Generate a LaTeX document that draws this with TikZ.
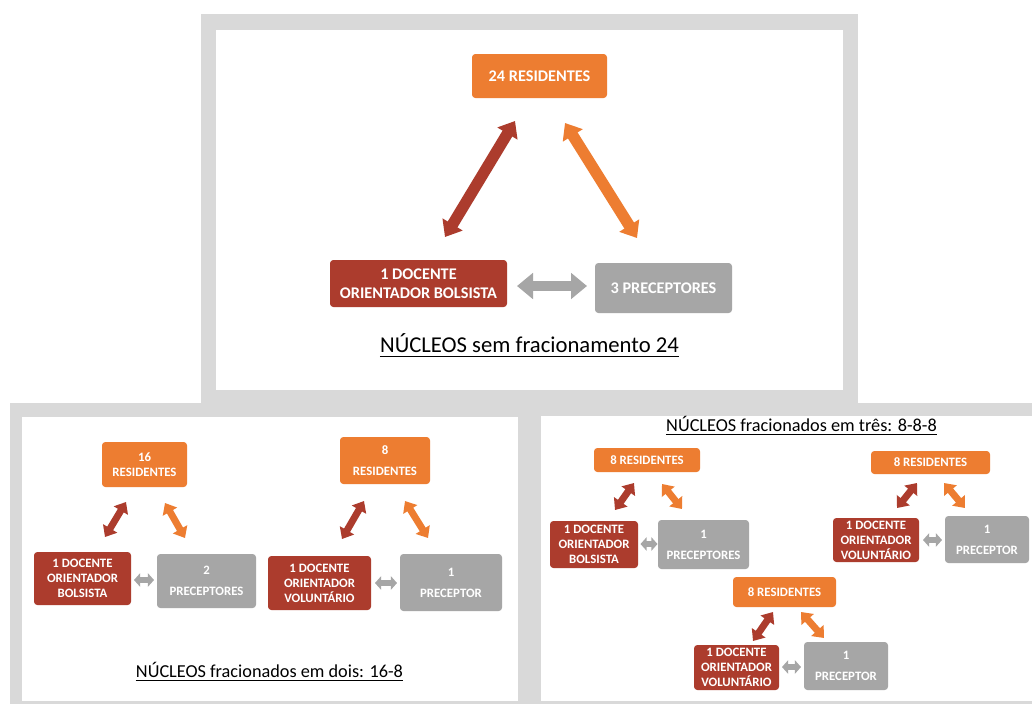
\documentclass[tikz,border=0pt]{standalone}
\usepackage{fontspec}
\setmainfont{Carlito}
\usetikzlibrary{arrows.meta}
\definecolor{oran}{HTML}{ED7D31}
\definecolor{rust}{HTML}{AC3C2D}
\definecolor{grbox}{HTML}{A6A6A6}
\definecolor{frame}{HTML}{D9D9D9}
\tikzset{
  basebox/.style={rounded corners=2.5pt, text=white, align=center, inner sep=0pt},
  obox/.style={basebox, fill=oran},
  rbox/.style={basebox, fill=rust},
  gbox/.style={basebox, fill=grbox},
  bigfont/.style={font=\fontsize{12.2}{14.4}\selectfont\bfseries},
  smallfont/.style={font=\fontsize{9.6}{11.3}\selectfont\bfseries},
  dblarrow/.style n args={3}{line width=#1, {Triangle[length=#2,width=#3]}-{Triangle[length=#2,width=#3]}},
  bigarr/.style={dblarrow={8.5pt}{11pt}{17pt}},
  bigside/.style={dblarrow={7.5pt}{12pt}{19pt}},
  smallarr/.style={dblarrow={5.2pt}{7.5pt}{12pt}},
  smallside/.style={dblarrow={4.5pt}{4.6pt}{10pt}},
  captext/.style={anchor=base, inner sep=0pt, text=black},
}
\begin{document}
\begin{tikzpicture}[x=0.75pt,y=-0.75pt]
\useasboundingbox (0,0) rectangle (1032,704);
% panels
\fill[frame] (201,14) rectangle (858,404);
\fill[frame] (10,403) rectangle (1032,704);
\fill[white] (216,30) rectangle (843,390);
\fill[white] (22,417) rectangle (518,701);
\fill[white] (541,416) rectangle (1032,701);

% ---------- top panel ----------
\node[obox, bigfont, minimum width=101.25pt, minimum height=33pt] (t0) at (539.5,76) {24 RESIDENTES};
\node[rbox, bigfont, minimum width=132.75pt, minimum height=35.25pt] (d0) at (418.5,283.5) {1 DOCENTE\\ORIENTADOR BOLSISTA};
\node[gbox, bigfont, minimum width=102.75pt, minimum height=37.5pt] (p0) at (663.5,288) {3 PRECEPTORES};
\coordinate (a0s) at (445,237); \coordinate (a0e) at (515,121);
\coordinate (b0s) at (565,123); \coordinate (b0e) at (637,238);
\coordinate (c0s) at (517,286); \coordinate (c0e) at (587,286);
\draw[bigarr, rust] (a0s) -- (a0e);
\draw[bigarr, oran] (b0s) -- (b0e);
\draw[bigside, grbox] (c0s) -- (c0e);
\node[captext, font=\fontsize{17}{20}\selectfont] (cap0) at (529.5,352) {NÚCLEOS sem fracionamento 24};
\draw[line width=1pt] ([yshift=-3.3pt]cap0.base west) -- ([yshift=-3.3pt]cap0.base east);

% ---------- bottom left panel ----------
\node[obox, smallfont, minimum width=63.75pt, minimum height=33.75pt] (o1) at (144.5,464.5) {16\\RESIDENTES};
\node[rbox, smallfont, minimum width=72.75pt, minimum height=39.75pt] (r1) at (82.5,578.5) {1 DOCENTE\\ORIENTADOR\\BOLSISTA};
\node[gbox, smallfont, minimum width=74.25pt, minimum height=40.5pt] (g1) at (206.5,581) {2\\[4.5pt]PRECEPTORES};
\coordinate (a1s) at (105,537); \coordinate (a1e) at (126,502);
\coordinate (b1s) at (165,503); \coordinate (b1e) at (185,538);
\coordinate (c1s) at (134,580); \coordinate (c1e) at (154,580);
\draw[smallarr, rust] (a1s) -- (a1e);
\draw[smallarr, oran] (b1s) -- (b1e);
\draw[smallside, grbox] (c1s) -- (c1e);

\node[obox, smallfont, minimum width=67.5pt, minimum height=35.25pt] (o2) at (385,460.5) {8\\[4.5pt]RESIDENTES};
\node[rbox, smallfont, minimum width=77.25pt, minimum height=40.5pt] (r2) at (319.5,583) {1 DOCENTE\\ORIENTADOR\\VOLUNTÁRIO};
\node[gbox, smallfont, minimum width=76.5pt, minimum height=42.75pt] (g2) at (451,582.5) {1\\[4.5pt]PRECEPTOR};
\coordinate (a2s) at (342,539); \coordinate (a2e) at (364,501);
\coordinate (b2s) at (405,501); \coordinate (b2e) at (428,538);
\coordinate (c2s) at (375,583); \coordinate (c2e) at (397,583);
\draw[smallarr, rust] (a2s) -- (a2e);
\draw[smallarr, oran] (b2s) -- (b2e);
\draw[smallside, grbox] (c2s) -- (c2e);
\node[captext, font=\fontsize{13.7}{16}\selectfont] (cap1) at (269.5,677) {NÚCLEOS fracionados em dois: 16-8};
\draw[line width=0.9pt] ([yshift=-2.6pt]cap1.base west) -- ([yshift=-2.6pt]cap1.base east);

% ---------- bottom right panel ----------
\node[captext, font=\fontsize{13.7}{16}\selectfont] (cap2) at (801.5,431) {NÚCLEOS fracionados em três: 8-8-8};
\draw[line width=0.9pt] ([yshift=-2.6pt]cap2.base west) -- ([yshift=-2.6pt]cap2.base east);

\node[obox, smallfont, minimum width=79.5pt, minimum height=18pt] (o3) at (647,460) {8 RESIDENTES};
\node[rbox, smallfont, minimum width=66pt, minimum height=35.25pt] (r3) at (594,544.5) {1 DOCENTE\\ORIENTADOR\\BOLSISTA};
\node[gbox, smallfont, minimum width=68.25pt, minimum height=36.75pt] (g3) at (703.5,544.5) {1\\[4.5pt]PRECEPTORES};
\coordinate (a3s) at (615,510); \coordinate (a3e) at (634,483);
\coordinate (b3s) at (662,484); \coordinate (b3e) at (682,509);
\coordinate (c3s) at (640.5,544); \coordinate (c3e) at (657.5,544);
\draw[smallarr, rust] (a3s) -- (a3e);
\draw[smallarr, oran] (b3s) -- (b3e);
\draw[smallside, grbox] (c3s) -- (c3e);

\node[obox, smallfont, minimum width=89.25pt, minimum height=17.25pt] (o4) at (930.5,462.5) {8 RESIDENTES};
\node[rbox, smallfont, minimum width=64.5pt, minimum height=33pt] (r4) at (876,540) {1 DOCENTE\\ORIENTADOR\\VOLUNTÁRIO};
\node[gbox, smallfont, minimum width=63pt, minimum height=35.25pt] (g4) at (987,539.5) {1\\[4.5pt]PRECEPTOR};
\coordinate (a4s) at (897,508); \coordinate (a4e) at (917,483);
\coordinate (b4s) at (944,483); \coordinate (b4e) at (965,508);
\coordinate (c4s) at (923,540); \coordinate (c4e) at (942,540);
\draw[smallarr, rust] (a4s) -- (a4e);
\draw[smallarr, oran] (b4s) -- (b4e);
\draw[smallside, grbox] (c4s) -- (c4e);

\node[obox, smallfont, minimum width=77.25pt, minimum height=22.5pt] (o5) at (784.5,592) {8 RESIDENTES};
\node[rbox, smallfont, minimum width=63.75pt, minimum height=33.75pt] (r5) at (736.5,667.5) {1 DOCENTE\\ORIENTADOR\\VOLUNTÁRIO};
\node[gbox, smallfont, minimum width=63pt, minimum height=36pt] (g5) at (846,666) {1\\[4.5pt]PRECEPTOR};
\coordinate (a5s) at (753,641); \coordinate (a5e) at (773,612);
\coordinate (b5s) at (801,612); \coordinate (b5e) at (824,638);
\coordinate (c5s) at (782,667); \coordinate (c5e) at (801,667);
\draw[smallarr, rust] (a5s) -- (a5e);
\draw[smallarr, oran] (b5s) -- (b5e);
\draw[smallside, grbox] (c5s) -- (c5e);
\end{tikzpicture}
\end{document}
